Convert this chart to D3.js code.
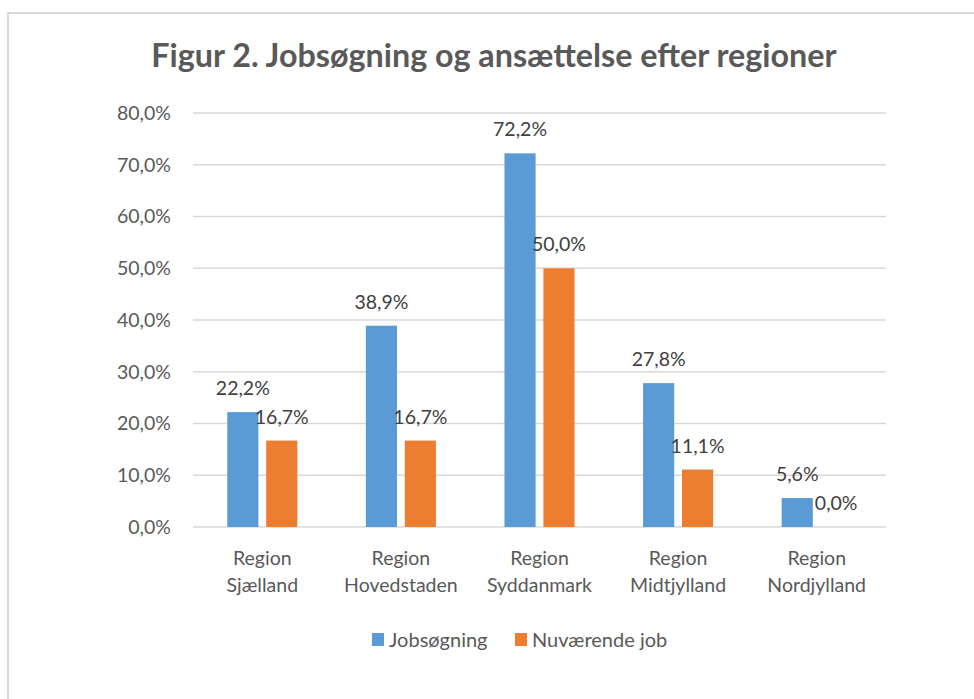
<!DOCTYPE html>
<html>
<head>
<meta charset="utf-8">
<script src="https://cdn.jsdelivr.net/npm/d3@7"></script>
<style>
  body { margin: 0; background: #ffffff; }
  svg { display: block; }
</style>
</head>
<body>
<div id="chart"></div>
<script>
// Data
const regions = ["Region Sjælland", "Region Hovedstaden", "Region Syddanmark", "Region Midtjylland", "Region Nordjylland"];
const seriesNames = ["Jobsøgning", "Nuværende job"];
const jobsogning = [0.222, 0.389, 0.722, 0.278, 0.056];
const nuvaerende = [0.167, 0.167, 0.500, 0.111, 0.000];
const yTicks = [0, 0.1, 0.2, 0.3, 0.4, 0.5, 0.6, 0.7, 0.8];

const colors = { "Jobsøgning": "#5B9BD5", "Nuværende job": "#ED7D31" };
const width = 974, height = 699;
const font = "Lato, 'Open Sans', sans-serif";

// Danish number format: comma decimal
const locale = d3.formatLocale({ decimal: ",", thousands: ".", grouping: [3], currency: ["", " kr."] });
const pct = locale.format(".1%");

const rows = regions.map((r, i) => ({
    region: r,
    values: [
        { key: seriesNames[0], value: jobsogning[i] },
        { key: seriesNames[1], value: nuvaerende[i] }
    ]
}));

const svg = d3.select("#chart")
    .append("svg")
    .attr("width", width)
    .attr("height", height);

// Outer chart frame (right/bottom run off the picture)
svg.append("rect")
    .attr("x", 8).attr("y", 13)
    .attr("width", 1000).attr("height", 720)
    .style("fill", "none")
    .style("stroke", "#d9d9d9")
    .style("stroke-width", 2);

// Title
svg.append("text")
    .attr("x", 494)
    .attr("y", 67)
    .attr("text-anchor", "middle")
    .style("font-family", font)
    .style("font-weight", "bold")
    .style("font-size", "32.3px")
    .style("fill", "#595959")
    .text("Figur 2. Jobsøgning og ansættelse efter regioner");

// Scales
const x0 = d3.scaleBand().domain(regions).range([193, 886]);
const x1 = d3.scaleBand().domain(seriesNames).range([0, x0.bandwidth()])
    .paddingInner(0.2).paddingOuter(0.88);
const y = d3.scaleLinear().domain([0, 0.8]).range([527, 113]);

// Gridlines
svg.append("g")
    .selectAll("line")
    .data(yTicks)
    .join("line")
    .attr("x1", 193).attr("x2", 886)
    .attr("y1", d => y(d)).attr("y2", d => y(d))
    .style("stroke", "#d9d9d9")
    .style("stroke-width", 1.3);

// Y axis labels
svg.append("g")
    .selectAll("text")
    .data(yTicks)
    .join("text")
    .attr("x", 171)
    .attr("y", d => y(d))
    .attr("dy", "0.35em")
    .attr("text-anchor", "end")
    .style("font-family", font)
    .style("font-size", "19.5px")
    .style("fill", "#595959")
    .text(d => pct(d));

// Bars
const group = svg.append("g")
    .selectAll("g")
    .data(rows)
    .join("g")
    .attr("transform", d => `translate(${x0(d.region)},0)`);

group.selectAll("rect")
    .data(d => d.values)
    .join("rect")
    .attr("x", d => x1(d.key))
    .attr("width", x1.bandwidth())
    .attr("y", d => y(d.value))
    .attr("height", d => y(0) - y(d.value))
    .style("fill", d => colors[d.key]);

// Value labels
group.selectAll("text")
    .data(d => d.values)
    .join("text")
    .attr("x", d => x1(d.key) + x1.bandwidth() / 2)
    .attr("y", d => y(d.value) - 17)
    .attr("text-anchor", "middle")
    .style("font-family", font)
    .style("font-size", "19.5px")
    .style("fill", "#404040")
    .text(d => pct(d.value));

// Category labels, two lines each
const cat = svg.append("g")
    .selectAll("text")
    .data(regions)
    .join("text")
    .attr("x", d => x0(d) + x0.bandwidth() / 2)
    .attr("y", 565)
    .attr("text-anchor", "middle")
    .style("font-family", font)
    .style("font-size", "19.5px")
    .style("fill", "#595959");

cat.selectAll("tspan")
    .data(d => d.split(" "))
    .join("tspan")
    .attr("x", function() { return d3.select(this.parentNode).attr("x"); })
    .attr("dy", (d, i) => i === 0 ? 0 : 27)
    .text(d => d);

// Legend
const legendPos = [372, 515];
const legend = svg.append("g")
    .selectAll("g")
    .data(seriesNames)
    .join("g")
    .attr("transform", (d, i) => `translate(${legendPos[i]},633)`);

legend.append("rect")
    .attr("width", 12).attr("height", 13)
    .style("fill", d => colors[d]);

legend.append("text")
    .attr("x", 17)
    .attr("y", 13.5)
    .style("font-family", font)
    .style("font-size", "20px")
    .style("fill", "#595959")
    .text(d => d);
</script>
</body>
</html>
